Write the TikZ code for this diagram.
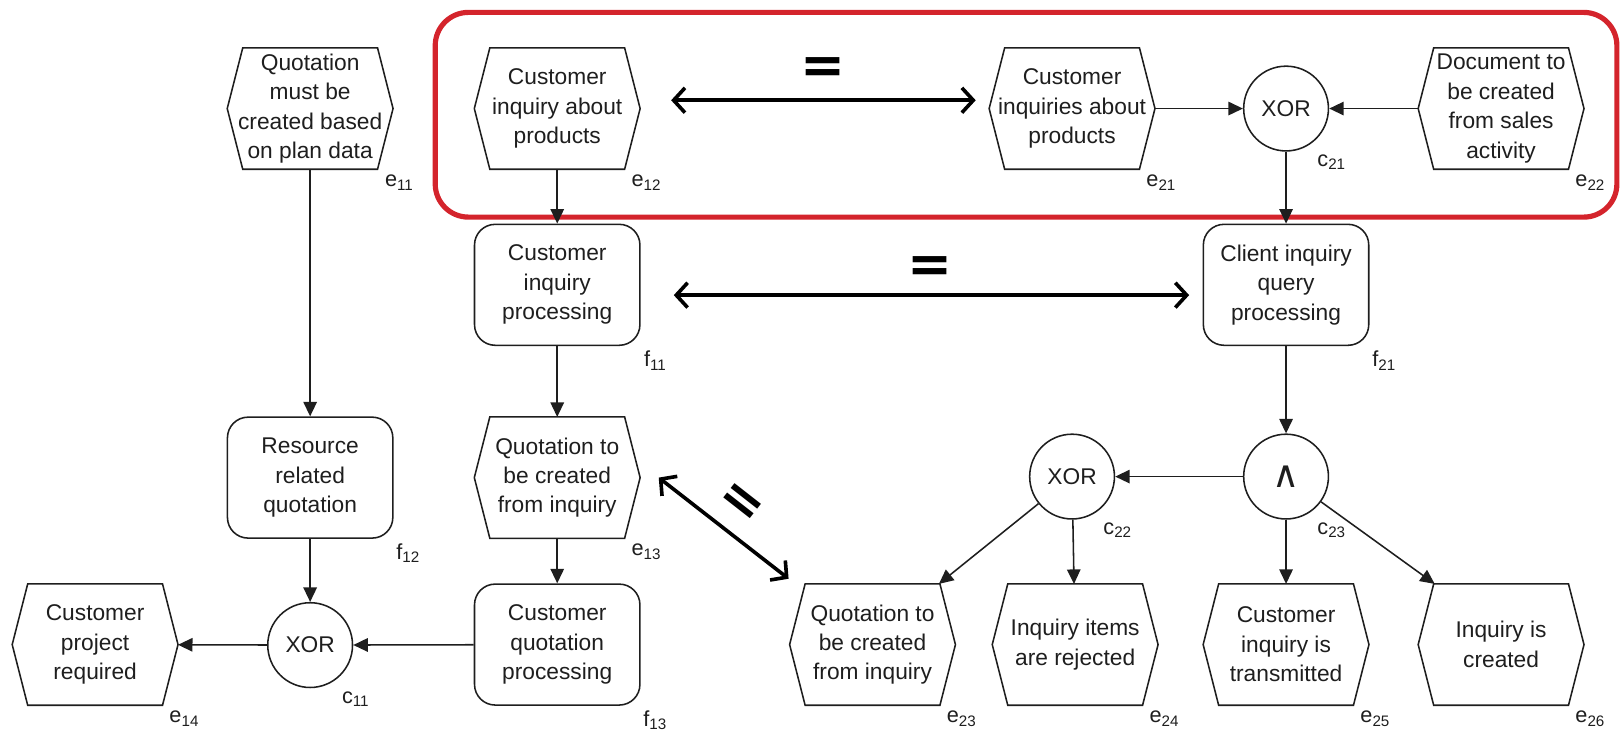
\documentclass[tikz,border=0pt]{standalone}
\usepackage{fontspec}
\setmainfont{Liberation Sans}
\newfontfamily\eqfont{DejaVu Sans}
\usetikzlibrary{arrows.meta,calc}
\definecolor{grpred}{RGB}{212,36,44}
\definecolor{ink}{RGB}{30,30,30}
\newcommand\hexev[4]{%
  \node[evt] (#1) at (#2) {#3};
  \draw[hexline] ($(#1.north west)+(15pt,0)$) -- ($(#1.north east)+(-15pt,0)$) -- (#1.east)
     -- ($(#1.south east)+(-15pt,0)$) -- ($(#1.south west)+(15pt,0)$) -- (#1.west) -- cycle;
  \node[lbl] (#1l) at ($(#1.south east)+(6pt,-13pt)$) {#4};
}
\newcommand\fnbox[4]{%
  \node[fn] (#1) at (#2) {#3};
  \node[lbl] (#1l) at ($(#1.south east)+(14pt,-14pt)$) {#4};
}
\newcommand\gatec[4]{%
  \node[gate] (#1) at (#2) {#3};
  \node[lbl] (#1l) at ($(#1.center)+(44pt,-52pt)$) {#4};
}
\begin{document}
\begin{tikzpicture}[x=1pt,y=-1pt,
  every node/.style={font=\fontsize{22}{28.5}\selectfont, text=ink},
  box/.style={minimum width=160pt, minimum height=117pt, inner sep=0pt, align=center},
  fn/.style={box, draw=ink, rounded corners=20pt, line width=1.5pt},
  evt/.style={box},
  hexline/.style={draw=ink, line width=1.5pt, line join=miter},
  gate/.style={circle, draw=ink, line width=1.5pt, minimum size=82pt, inner sep=0pt},
  lbl/.style={font=\fontsize{21}{21}\selectfont, inner sep=0pt},
  arr/.style={draw=ink, -{Triangle[length=14pt,width=13pt]}, line width=1.5pt},
  eqarr/.style={draw=black, {Straight Barb[length=11pt,width=24pt]}-{Straight Barb[length=11pt,width=24pt]}, line width=3.5pt},
  eqsign/.style={font=\eqfont\bfseries\fontsize{52}{52}\selectfont, inner sep=0pt, text=black},
]
\useasboundingbox (0,0) rectangle (1568,709);
% group frame
\draw[grpred, line width=5pt, rounded corners=32pt] (421,12) rectangle (1564,210);
% events
\hexev{e11}{300,105}{Quotation\\must be\\created based\\on plan data}{e\textsubscript{11}}
\hexev{e12}{539,105}{Customer\\inquiry about\\products}{e\textsubscript{12}}
\hexev{e21}{1037,105}{Customer\\inquiries about\\products}{e\textsubscript{21}}
\hexev{e22}{1452,105}{Document to\\be created\\from sales\\activity}{e\textsubscript{22}}
\hexev{e13}{539,462}{Quotation to\\be created\\from inquiry}{e\textsubscript{13}}
\hexev{e14}{92,623.5}{Customer\\project\\required}{e\textsubscript{14}}
\hexev{e23}{844,623.5}{Quotation to\\be created\\from inquiry}{e\textsubscript{23}}
\hexev{e24}{1040,623.5}{Inquiry items\\are rejected}{e\textsubscript{24}}
\hexev{e25}{1244,623.5}{Customer\\inquiry is\\transmitted}{e\textsubscript{25}}
\hexev{e26}{1452,623.5}{Inquiry is\\created}{e\textsubscript{26}}
% functions
\fnbox{f11}{539,275.5}{Customer\\inquiry\\processing}{f\textsubscript{11}}
\fnbox{f21}{1244,275.5}{Client inquiry\\query\\processing}{f\textsubscript{21}}
\fnbox{f12}{300,462}{Resource\\related\\quotation}{f\textsubscript{12}}
\fnbox{f13}{539,623.5}{Customer\\quotation\\processing}{f\textsubscript{13}}
% connectors
\gatec{c21}{1244,105}{XOR}{c\textsubscript{21}}
\gatec{c11}{300,624}{XOR}{c\textsubscript{11}}
\gatec{c22}{1037,461}{XOR}{c\textsubscript{22}}
\gatec{c23}{1244,461}{\raisebox{-9pt}{\eqfont\fontsize{36}{36}\selectfont ∧}}{c\textsubscript{23}}
% control flow
\draw[arr] (e11) -- (f12);
\draw[arr] (e12) -- (f11);
\draw[arr] (e21) -- (c21);
\draw[arr] (e22) -- (c21);
\draw[arr] (c21) -- (f21);
\draw[arr] (f11) -- (e13);
\draw[arr] (f21) -- (c23);
\draw[arr] (c23) -- (c22);
\draw[arr] (e13) -- (f13);
\draw[arr] (f12) -- (c11);
\draw[arr] (f13) -- (c11);
\draw[arr] (c11) -- (e14);
\draw[arr] (c22) -- ($(e23.north east)+(-16pt,0)$);
\draw[arr] (c22) -- (e24);
\draw[arr] (c23) -- (e25);
\draw[arr] (c23) -- ($(e26.north west)+(16pt,0)$);
% equivalences
\draw[eqarr, shorten <=30pt, shorten >=13pt] ([yshift=8pt]e12.east) -- ([yshift=8pt]e21.west);
\node[eqsign] (eq1) at (796,68) {=};
\draw[eqarr, shorten <=32pt, shorten >=13pt] ([yshift=-10pt]f11.east) -- ([yshift=-10pt]f21.west);
\node[eqsign] (eq2) at (900,261) {=};
\draw[eqarr] ($(e13.east)+(18pt,0pt)$) -- ($(e23.north west)+(-1pt,5pt)$);
\node[eqsign, rotate=-38] (eq3) at (716,488) {=};
\end{tikzpicture}
\end{document}
